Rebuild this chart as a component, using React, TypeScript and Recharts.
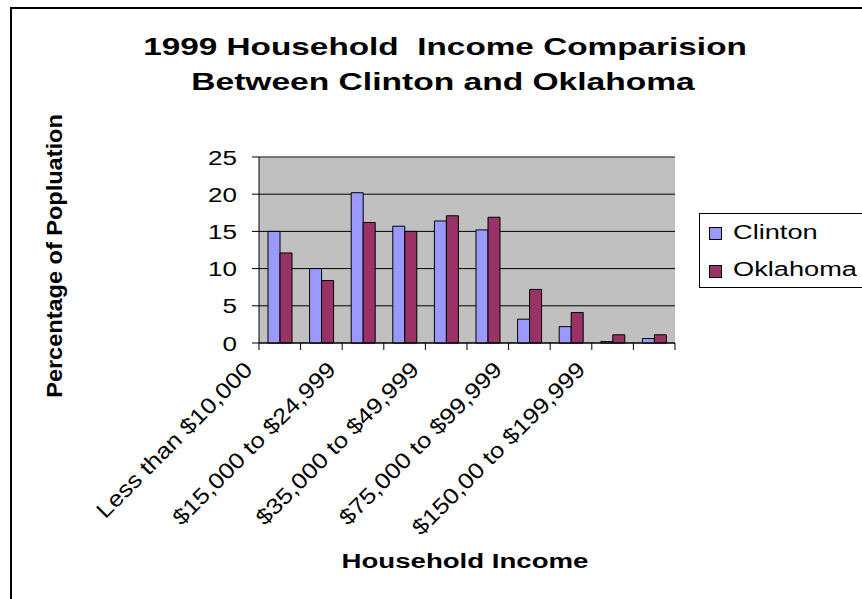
import React from "react";
import { BarChart, Bar, XAxis, YAxis, CartesianGrid, ReferenceLine } from "recharts";

const categories = [
  "Less than $10,000",
  "$10,000 to $14,999",
  "$15,000 to $24,999",
  "$25,000 to $34,999",
  "$35,000 to $49,999",
  "$50,000 to $74,999",
  "$75,000 to $99,999",
  "$100,000 to $149,999",
  "$150,00 to $199,999",
  "$200,000 or more",
];
const clinton = [15.0, 10.0, 20.2, 15.7, 16.4, 15.2, 3.2, 2.2, 0.2, 0.6];
const oklahoma = [12.1, 8.4, 16.2, 15.0, 17.1, 16.9, 7.2, 4.1, 1.1, 1.1];
const yTicks = [0, 5, 10, 15, 20, 25];

const data = categories.map((c, i) => ({ cat: c, Clinton: clinton[i], Oklahoma: oklahoma[i] }));

const W = 862;
const H = 599;
const PLOT_L = 259;
const PLOT_R = 675;
const PLOT_T = 157;
const PLOT_B = 343;
const BAND = (PLOT_R - PLOT_L) / categories.length;
const FONT = "'Liberation Sans', Arial, sans-serif";

const YTick = (props: any) => {
  const { x, y, payload } = props;
  return (
    <text
      transform={`translate(${x},${y}) scale(1.24,1)`}
      x={0}
      y={0}
      dy="0.36em"
      textAnchor="end"
      fontFamily={FONT}
      fontSize={21}
      fill="#000"
    >
      {payload.value}
    </text>
  );
};

const XTick = (props: any) => {
  const { x, payload, index } = props;
  const y = PLOT_B;
  const left = x - BAND / 2;
  const isLast = index === categories.length - 1;
  return (
    <g>
      <line x1={left} y1={y} x2={left} y2={y + 7} stroke="#000" strokeWidth={1} />
      {isLast && <line x1={x + BAND / 2} y1={y} x2={x + BAND / 2} y2={y + 7} stroke="#000" strokeWidth={1} />}
      {index % 2 === 0 && (
        <text
          transform={`translate(${x - 26},${y + 28}) rotate(-45) scale(1.16,1)`}
          x={0}
          y={0}
          textAnchor="end"
          fontFamily={FONT}
          fontSize={22}
          fill="#000"
        >
          {payload.value}
        </text>
      )}
    </g>
  );
};

export default function App() {
  return (
    <div style={{ position: "absolute", left: 0, top: 0, width: W, height: H, overflow: "hidden", background: "#fff" }}>
      <div
        style={{
          position: "absolute",
          left: 10,
          top: 7,
          width: 900,
          height: 700,
          border: "2px solid #000",
          boxSizing: "border-box",
        }}
      />
      <div style={{ position: "absolute", left: 0, top: 0 }}>
        <BarChart
          width={W}
          height={H}
          data={data}
          margin={{ top: PLOT_T, left: PLOT_L - 60, right: W - PLOT_R, bottom: H - PLOT_B - 30 }}
          barGap={0}
        >
          <CartesianGrid vertical={false} horizontal stroke="#000" fill="#C0C0C0" fillOpacity={1} />
          <XAxis
            dataKey="cat"
            height={30}
            interval={0}
            tickLine={false}
            tickSize={0}
            tickMargin={0}
            axisLine={{ stroke: "#000" }}
            tick={<XTick />}
          />
          <YAxis
            width={60}
            domain={[0, 25]}
            ticks={yTicks}
            interval={0}
            tickSize={7}
            tickMargin={15}
            axisLine={{ stroke: "#000" }}
            tickLine={{ stroke: "#000" }}
            tick={<YTick />}
          />
          <YAxis
            yAxisId="r"
            orientation="right"
            width={0}
            domain={[0, 25]}
            tick={false}
            tickLine={false}
            axisLine={{ stroke: "#808080" }}
          />
          <ReferenceLine y={25} stroke="#808080" />
          <Bar dataKey="Clinton" barSize={12} fill="#9999FF" stroke="#000" strokeWidth={1} isAnimationActive={false} />
          <Bar dataKey="Oklahoma" barSize={12} fill="#993366" stroke="#000" strokeWidth={1} isAnimationActive={false} />
        </BarChart>
      </div>
      <svg width={W} height={H} style={{ position: "absolute", left: 0, top: 0, pointerEvents: "none" }}>
        <text transform="translate(445,55) scale(1.45,1)" textAnchor="middle" fontFamily={FONT} fontWeight="bold" fontSize={23} fill="#000" style={{ whiteSpace: "pre" }}>
          {"1999 Household  Income Comparision"}
        </text>
        <text transform="translate(443,90) scale(1.46,1)" textAnchor="middle" fontFamily={FONT} fontWeight="bold" fontSize={23} fill="#000">
          Between Clinton and Oklahoma
        </text>
        <text transform="translate(62,256) rotate(-90) scale(1.07,1)" textAnchor="middle" fontFamily={FONT} fontWeight="bold" fontSize={22} fill="#000">
          Percentage of Popluation
        </text>
        <text transform="translate(465,568) scale(1.38,1)" textAnchor="middle" fontFamily={FONT} fontWeight="bold" fontSize={20} fill="#000">
          Household Income
        </text>
        <rect x={699.5} y={213.5} width={200} height={74} fill="#fff" stroke="#000" strokeWidth={1} />
        <rect x={709.5} y={227.5} width={12} height={12} fill="#9999FF" stroke="#000" strokeWidth={1} />
        <rect x={709.5} y={265.5} width={12} height={12} fill="#993366" stroke="#000" strokeWidth={1} />
        <text transform="translate(733,239) scale(1.36,1)" fontFamily={FONT} fontSize={20} fill="#000">
          Clinton
        </text>
        <text transform="translate(733,276) scale(1.36,1)" fontFamily={FONT} fontSize={20} fill="#000">
          Oklahoma
        </text>
      </svg>
    </div>
  );
}
